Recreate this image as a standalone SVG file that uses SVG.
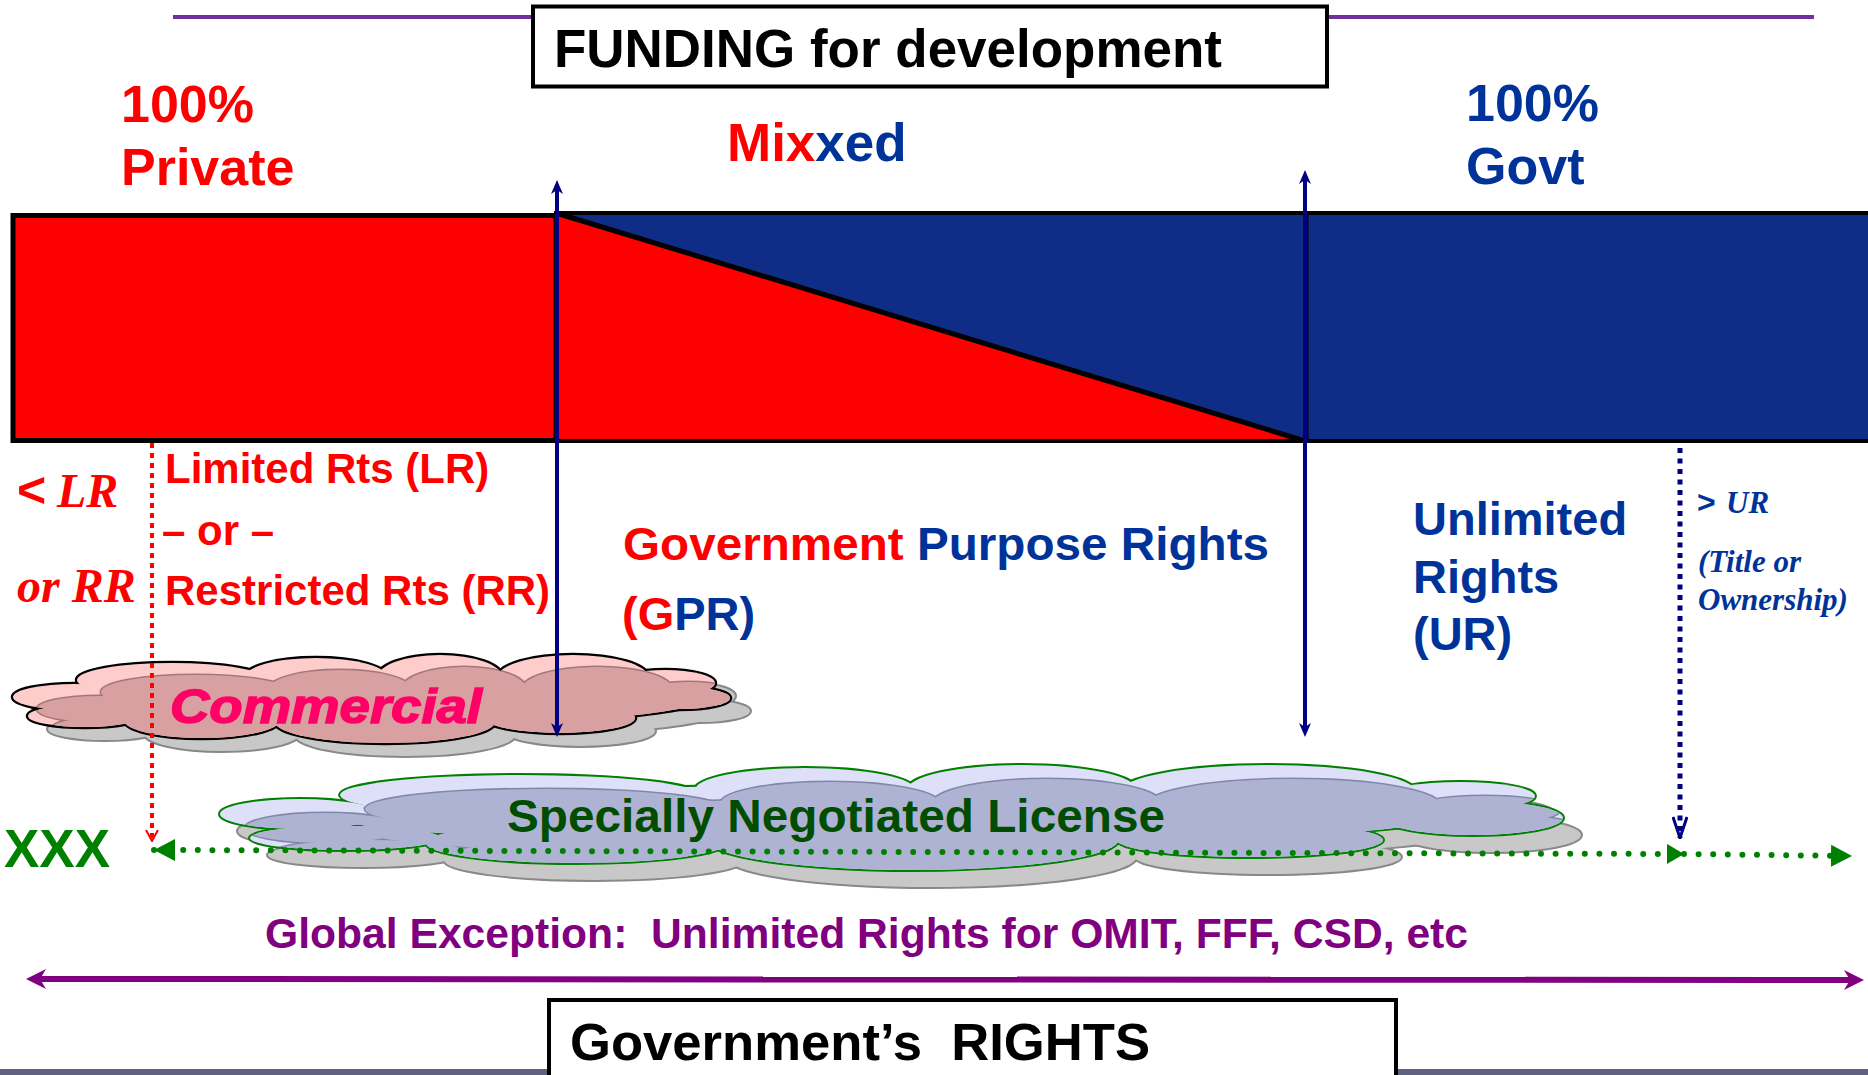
<svg xmlns="http://www.w3.org/2000/svg" xmlns:xlink="http://www.w3.org/1999/xlink" width="1868" height="1075" viewBox="0 0 1868 1075">
<style>
.s{font-family:"Liberation Sans",Arial,sans-serif;font-weight:bold}
.t{font-family:"Liberation Serif","Times New Roman",serif;font-style:italic;font-weight:bold}
.red{fill:#FF0000}
.blue{fill:#003399}
.box{fill:#FFFFFF;stroke:#000000;stroke-width:4}
</style>
<defs>
  <marker id="navyHead" markerUnits="userSpaceOnUse" viewBox="0 0 14 12" refX="4" refY="6" markerWidth="14" markerHeight="12" orient="auto-start-reverse">
    <path d="M0,0 L14,6 L0,12 L4,6 z" fill="#000080"/>
  </marker>
  <marker id="purpleHead" markerUnits="userSpaceOnUse" viewBox="0 0 20 20" refX="6" refY="10" markerWidth="20" markerHeight="20" orient="auto-start-reverse">
    <path d="M0,0 L20,10 L0,20 L6,10 z" fill="#800080"/>
  </marker>
  <marker id="greenTri" markerUnits="userSpaceOnUse" viewBox="0 0 21 22" refX="21" refY="11" markerWidth="21" markerHeight="22" orient="auto-start-reverse">
    <path d="M0,0 L21,11 L0,22 z" fill="#008000"/>
  </marker>
  <marker id="greenTriS" markerUnits="userSpaceOnUse" viewBox="0 0 17 20" refX="17" refY="10" markerWidth="17" markerHeight="20" orient="auto">
    <path d="M0,0 L17,10 L0,20 z" fill="#008000"/>
  </marker>
  <marker id="redV" markerUnits="userSpaceOnUse" viewBox="0 0 13 14" refX="12" refY="7" markerWidth="13" markerHeight="14" orient="auto">
    <path d="M1,1 L12,7 L1,13" fill="none" stroke="#FF0000" stroke-width="2"/>
  </marker>
  <marker id="blueV" markerUnits="userSpaceOnUse" viewBox="0 0 23 16" refX="22" refY="8" markerWidth="23" markerHeight="16" orient="auto">
    <path d="M1,1 L22,8 L1,15" fill="none" stroke="#000080" stroke-width="3"/>
  </marker>
  <g id="cloudC">
    <ellipse cx="75" cy="697" rx="62" ry="13"/>
    <ellipse cx="85" cy="716" rx="57" ry="11"/>
    <ellipse cx="172" cy="680" rx="95" ry="17"/>
    <ellipse cx="316" cy="678" rx="72" ry="20"/>
    <ellipse cx="440" cy="677" rx="62" ry="22"/>
    <ellipse cx="573" cy="677" rx="75" ry="22"/>
    <ellipse cx="665" cy="683" rx="50" ry="13"/>
    <ellipse cx="680" cy="698" rx="50" ry="11"/>
    <ellipse cx="560" cy="718" rx="75" ry="15"/>
    <ellipse cx="385" cy="722" rx="110" ry="21"/>
    <ellipse cx="202" cy="720" rx="78" ry="18"/>
    <ellipse cx="380" cy="700" rx="320" ry="25"/>
  </g>
  <g id="cloudS">
    <ellipse cx="300" cy="814" rx="80" ry="15"/>
    <ellipse cx="345" cy="838" rx="95" ry="12"/>
    <ellipse cx="520" cy="795" rx="180" ry="20"/>
    <ellipse cx="805" cy="790" rx="110" ry="22"/>
    <ellipse cx="1022" cy="790" rx="115" ry="25"/>
    <ellipse cx="1268" cy="792" rx="148" ry="27"/>
    <ellipse cx="1460" cy="796" rx="75" ry="14"/>
    <ellipse cx="1473" cy="818" rx="90" ry="17"/>
    <ellipse cx="1250" cy="840" rx="133" ry="17"/>
    <ellipse cx="913" cy="840" rx="205" ry="30"/>
    <ellipse cx="576" cy="843" rx="150" ry="20"/>
    <ellipse cx="890" cy="815" rx="560" ry="30"/>
  </g>
  <mask id="maskC" maskUnits="userSpaceOnUse" x="0" y="0" width="1868" height="1075">
    <use xlink:href="#cloudC" fill="#FFFFFF"/>
  </mask>
  <mask id="maskS" maskUnits="userSpaceOnUse" x="0" y="0" width="1868" height="1075">
    <use xlink:href="#cloudS" fill="#FFFFFF"/>
  </mask>
</defs>

<rect x="0" y="0" width="1868" height="1075" fill="#FFFFFF"/>
<rect x="0" y="1069" width="1868" height="6" fill="#5E6280"/>
<line x1="173" y1="17" x2="1814" y2="17" stroke="#7030A0" stroke-width="4"/>

<g id="funding">
  <rect class="box" x="533" y="6.5" width="794" height="80"/>
  <text class="s" x="554" y="67" font-size="53" fill="#000000" textLength="668" lengthAdjust="spacingAndGlyphs">FUNDING for development</text>
</g>

<g id="private-label">
  <text class="s red" font-size="52"><tspan x="121" y="122">100%</tspan><tspan x="121" y="185">Private</tspan></text>
</g>
<g id="mixxed-label">
  <text class="s" x="727" y="161" font-size="53"><tspan fill="#FF0000">Mix</tspan><tspan fill="#003399">xed</tspan></text>
</g>
<g id="govt-label">
  <text class="s blue" font-size="52"><tspan x="1466" y="121">100%</tspan><tspan x="1466" y="184">Govt</tspan></text>
</g>

<g id="funding-bar">
  <rect x="556" y="213" width="1400" height="228" fill="#0F2D87" stroke="#000000" stroke-width="4"/>
  <polygon points="556,213 1305,441 556,441" fill="#FF0000"/>
  <line x1="556" y1="213" x2="1305" y2="441" stroke="#000000" stroke-width="5"/>
  <line x1="1307" y1="213" x2="1307" y2="441" stroke="#000000" stroke-width="3"/>
  <line x1="556" y1="441" x2="1310" y2="441" stroke="#000000" stroke-width="4"/>
  <rect x="13" y="215.5" width="543" height="225" fill="#FF0000" stroke="#000000" stroke-width="5"/>
</g>

<g id="commercial">
  <g transform="translate(20,13)">
    <use xlink:href="#cloudC" fill="none" stroke="#888888" stroke-width="4"/>
    <use xlink:href="#cloudC" fill="#C8C8C8"/>
  </g>
  <use xlink:href="#cloudC" fill="none" stroke="#000000" stroke-width="4.5"/>
  <use xlink:href="#cloudC" fill="#FFCCCC"/>
  <g mask="url(#maskC)">
    <g transform="translate(24,12)">
      <use xlink:href="#cloudC" fill="none" stroke="#A07878" stroke-width="3"/>
      <use xlink:href="#cloudC" fill="#D8A0A0"/>
    </g>
  </g>
  <text class="s" x="170" y="723" font-size="48" font-style="italic" fill="#FF0066" stroke="#FF0066" stroke-width="1.5" textLength="312" lengthAdjust="spacingAndGlyphs">Commercial</text>
</g>

<g id="snl">
  <g transform="translate(18,17)">
    <use xlink:href="#cloudS" fill="none" stroke="#888888" stroke-width="4"/>
    <use xlink:href="#cloudS" fill="#C8C8C8"/>
  </g>
  <use xlink:href="#cloudS" fill="none" stroke="#008000" stroke-width="4"/>
  <use xlink:href="#cloudS" fill="#DDE0F8"/>
  <g mask="url(#maskS)">
    <g transform="translate(25,14)">
      <use xlink:href="#cloudS" fill="none" stroke="#8088A8" stroke-width="3"/>
      <use xlink:href="#cloudS" fill="#AFB3D3"/>
    </g>
  </g>
  <text class="s" x="507" y="832" font-size="47" fill="#004D00" textLength="658" lengthAdjust="spacingAndGlyphs">Specially Negotiated License</text>
</g>

<g id="connectors">
  <line x1="557" y1="190" x2="557" y2="727" stroke="#000080" stroke-width="4" marker-start="url(#navyHead)" marker-end="url(#navyHead)"/>
  <line x1="1305" y1="180" x2="1305" y2="727" stroke="#000080" stroke-width="4" marker-start="url(#navyHead)" marker-end="url(#navyHead)"/>
  <line x1="152" y1="443" x2="152" y2="841" stroke="#FF0000" stroke-width="4" stroke-dasharray="5 5" marker-end="url(#redV)"/>
  <line x1="1680" y1="448" x2="1680" y2="838" stroke="#000080" stroke-width="5" stroke-dasharray="5 5.5" marker-end="url(#blueV)"/>
  <line x1="154" y1="850" x2="1684" y2="854" stroke="#008000" stroke-width="6" stroke-linecap="round" stroke-dasharray="0 14.6" marker-start="url(#greenTri)" marker-end="url(#greenTriS)"/>
  <line x1="1684" y1="854" x2="1852" y2="856" stroke="#008000" stroke-width="6" stroke-linecap="round" stroke-dasharray="0 14.6" marker-end="url(#greenTri)"/>
  <line x1="40" y1="979" x2="1850" y2="980" stroke="#800080" stroke-width="6" marker-start="url(#purpleHead)" marker-end="url(#purpleHead)"/>
</g>

<g id="lr-rr-labels">
  <text y="507" fill="#FF0000"><tspan class="s" x="17" font-size="50">&lt;</tspan><tspan class="t" x="57" font-size="48">LR</tspan></text>
  <text class="t" x="17" y="602" font-size="48" fill="#FF0000">or RR</text>
  <text class="s red" font-size="42"><tspan x="165" y="483">Limited Rts (LR)</tspan><tspan x="162" y="545">– or –</tspan><tspan x="165" y="605">Restricted Rts (RR)</tspan></text>
</g>

<g id="gpr-label">
  <text class="s" x="623" y="560" font-size="47" textLength="646" lengthAdjust="spacingAndGlyphs"><tspan fill="#FF0000">Government</tspan><tspan fill="#003399"> Purpose Rights</tspan></text>
  <text class="s" x="622" y="630" font-size="47"><tspan fill="#FF0000">(G</tspan><tspan fill="#003399">PR)</tspan></text>
</g>

<g id="ur-label">
  <text class="s blue" font-size="47"><tspan x="1413" y="535">Unlimited</tspan><tspan x="1413" y="593">Rights</tspan><tspan x="1413" y="650">(UR)</tspan></text>
</g>

<g id="title-label">
  <text y="513" fill="#003399"><tspan class="s" x="1697" font-size="32">&gt;</tspan><tspan class="t" x="1726" font-size="31">UR</tspan></text>
  <text class="t" font-size="31" fill="#003399"><tspan x="1698" y="572">(Title or</tspan><tspan x="1698" y="610">Ownership)</tspan></text>
</g>

<g id="xxx-label">
  <text class="s" x="4" y="867" font-size="53" fill="#008000">XXX</text>
</g>

<g id="global-exception">
  <text class="s" x="265" y="948" font-size="42" fill="#800080" xml:space="preserve" textLength="1203" lengthAdjust="spacingAndGlyphs">Global Exception:  Unlimited Rights for OMIT, FFF, CSD, etc</text>
</g>

<g id="govt-rights">
  <rect x="549" y="1000" width="847" height="110" fill="#FFFFFF" stroke="#000000" stroke-width="4"/>
  <text class="s" x="570" y="1060" font-size="52" fill="#000000" xml:space="preserve" textLength="580" lengthAdjust="spacingAndGlyphs">Government’s  RIGHTS</text>
</g>
</svg>
